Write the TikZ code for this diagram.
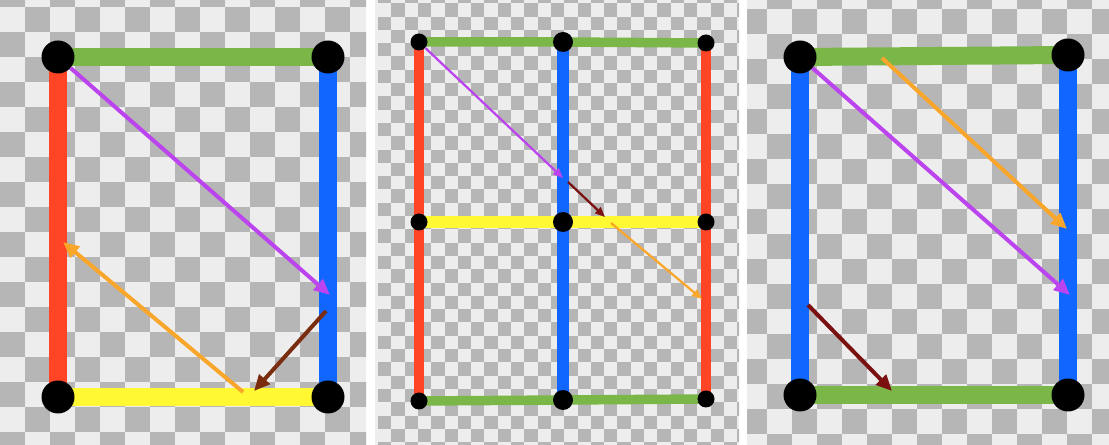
\documentclass[tikz,border=0pt]{standalone}
\usepackage{tikz}
\usetikzlibrary{arrows.meta}
\definecolor{boardlight}{HTML}{EDEDED}
\definecolor{boarddark}{HTML}{B6B6B6}
\definecolor{edgegreen}{HTML}{7AB648}
\definecolor{edgered}{HTML}{FF4526}
\definecolor{edgeblue}{HTML}{1166FF}
\definecolor{edgeyellow}{HTML}{FFF833}
\definecolor{arrowpurple}{HTML}{BB44EE}
\definecolor{arroworange}{HTML}{F9A62B}
\definecolor{arrowbrown}{HTML}{7A2C0E}
\definecolor{arrowdarkred}{HTML}{7A1010}
\pgfdeclarelayer{board}
\pgfdeclarelayer{edges}
\pgfsetlayers{board,edges,main}
\tikzstyle{dot} = [circle, fill=black, inner sep=0pt, minimum size=0.66cm]
\tikzstyle{smalldot} = [dot, minimum size=0.34cm]
\tikzstyle{middot} = [dot, minimum size=0.4cm]
\tikzstyle{bar} = [line width=0.36cm]
\tikzstyle{thinbar} = [line width=0.19cm]
\tikzstyle{arrow} = [line width=0.08cm, -{Triangle[length=0.32cm,width=0.28cm]}]
\tikzstyle{thinarrow} = [line width=0.045cm, -{Triangle[length=0.2cm,width=0.16cm]}]

\begin{document}
\begin{tikzpicture}[x=0.02cm, y=-0.02cm]
\useasboundingbox (0,0) rectangle (1109,445);

% Checkerboards
\begin{pgfonlayer}{board}
\fill[white] (0,0) rectangle (1109,445);
\begin{scope}
\clip (0,0) rectangle (366,445);
\fill[boardlight] (0,0) rectangle (366,445);
\foreach \x in {0,50,...,350}
  \foreach \y in {-18,32,...,432} {
    \fill[boarddark] (\x,\y) rectangle ++(25,25);
    \fill[boarddark] (\x+25,\y+25) rectangle ++(25,25);
  }
\end{scope}
\begin{scope}
\clip (375,0) rectangle (739,445);
\fill[boardlight] (375,0) rectangle (739,445);
\foreach \i in {0,...,14}
  \foreach \j in {0,...,17} {
    \fill[boarddark] (378+26.6*\i,26.6*\j-10) rectangle ++(13.3,13.3);
    \fill[boarddark] (391.3+26.6*\i,26.6*\j+3.3) rectangle ++(13.3,13.3);
  }
\end{scope}
\begin{scope}
\clip (747,0) rectangle (1109,445);
\fill[boardlight] (747,0) rectangle (1109,445);
\foreach \x in {742,792,...,1092}
  \foreach \y in {-41,9,...,459} {
    \fill[boarddark] (\x,\y) rectangle ++(25,25);
    \fill[boarddark] (\x+25,\y+25) rectangle ++(25,25);
  }
\end{scope}
\end{pgfonlayer}

% Vertices
\node (p1tl) [dot] at (58,57) {};
\node (p1tr) [dot] at (328,57) {};
\node (p1bl) [dot] at (58,397) {};
\node (p1br) [dot] at (328,397) {};

\node (p2tl) [smalldot] at (419,42) {};
\node (p2tm) [middot] at (563,42) {};
\node (p2tr) [smalldot] at (706,43) {};
\node (p2ml) [smalldot] at (419,222) {};
\node (p2mm) [middot] at (563,222) {};
\node (p2mr) [smalldot] at (706,222) {};
\node (p2bl) [smalldot] at (419,401) {};
\node (p2bm) [middot] at (563,400) {};
\node (p2br) [smalldot] at (706,399) {};

\node (p3tl) [dot] at (800,57) {};
\node (p3tr) [dot] at (1068,55) {};
\node (p3bl) [dot] at (800,395) {};
\node (p3br) [dot] at (1068,395) {};

% Edges
\begin{pgfonlayer}{edges}
\draw [bar, edgegreen] (p1tl.center) -- (p1tr.center);
\draw [bar, edgered] (p1tl.center) -- (p1bl.center);
\draw [bar, edgeblue] (p1tr.center) -- (p1br.center);
\draw [bar, edgeyellow] (p1bl.center) -- (p1br.center);

\draw [thinbar, edgegreen] (p2tl.center) -- (p2tm.center) -- (p2tr.center);
\draw [thinbar, edgered] (p2tl.center) -- (p2ml.center) -- (p2bl.center);
\draw [thinbar, edgeblue, line width=0.24cm] (p2tm.center) -- (p2mm.center) -- (p2bm.center);
\draw [thinbar, edgered] (p2tr.center) -- (p2mr.center) -- (p2br.center);
\draw [thinbar, edgeyellow, line width=0.23cm] (p2ml.center) -- (p2mm.center) -- (p2mr.center);
\draw [thinbar, edgegreen] (p2bl.center) -- (p2bm.center) -- (p2br.center);

\draw [bar, edgegreen] (p3tl.center) -- (p3tr.center);
\draw [bar, edgeblue] (p3tl.center) -- (p3bl.center);
\draw [bar, edgeblue] (p3tr.center) -- (p3br.center);
\draw [bar, edgegreen] (p3bl.center) -- (p3br.center);
\end{pgfonlayer}

% Arrows
\coordinate (p1purtip) at (330,295);
\coordinate (p1orgtail) at (243,392);
\coordinate (p1orgtip) at (63,242);
\coordinate (p1brntail) at (326,311);
\coordinate (p1brntip) at (254,391);
\draw [arrow, arrowpurple] (p1tl) -- (p1purtip);
\draw [arrow, arroworange] (p1orgtail) -- (p1orgtip);
\draw [arrow, arrowbrown] (p1brntail) -- (p1brntip);

\coordinate (p2purtip) at (563,178);
\coordinate (p2redtail) at (568,182);
\coordinate (p2redtip) at (605,217);
\coordinate (p2orgtail) at (611,223);
\coordinate (p2orgtip) at (702,299);
\draw [thinarrow, arrowpurple] (p2tl) -- (p2purtip);
\draw [thinarrow, arrowdarkred] (p2redtail) -- (p2redtip);
\draw [thinarrow, arroworange] (p2orgtail) -- (p2orgtip);

\coordinate (p3orgtail) at (882,58);
\coordinate (p3orgtip) at (1067,229);
\coordinate (p3purtip) at (1070,295);
\coordinate (p3redtail) at (808,305);
\coordinate (p3redtip) at (892,391);
\draw [arrow, arroworange] (p3orgtail) -- (p3orgtip);
\draw [arrow, arrowpurple] (p3tl) -- (p3purtip);
\draw [arrow, arrowdarkred] (p3redtail) -- (p3redtip);

\end{tikzpicture}
\end{document}
